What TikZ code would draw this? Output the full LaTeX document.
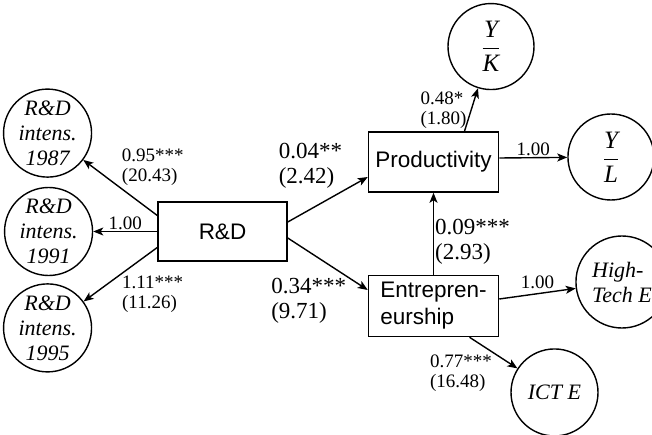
\documentclass[tikz,border=0pt]{standalone}
\usepackage{fontspec}
\setmainfont{Liberation Serif}
\setsansfont{Liberation Sans}
\usetikzlibrary{positioning, arrows.meta}

\newcommand{\boxfont}{\fontsize{22.5}{27}\selectfont\sffamily}
\newcommand{\circfont}{\fontsize{22}{25}\selectfont\itshape}
\newcommand{\smallcoef}{\fontsize{19}{20}\selectfont}
\newcommand{\largecoef}{\fontsize{23}{25}\selectfont}
\newcommand{\yratio}[2]{\fontsize{25}{28}\selectfont$\displaystyle\frac{\mbox{\itshape #1}}{\mbox{\itshape #2}}$}

\begin{document}
\begin{tikzpicture}[
    x=1pt, y=-1pt,
    node distance=10pt,
    arrow/.style={-{Stealth[length=10pt, width=8pt, inset=2.5pt]}, line width=1.4pt},
    varbox/.style={
        rectangle,
        draw,
        line width=1.5pt,
        minimum width=130pt,
        minimum height=60pt,
        inner sep=2pt,
        font=\boxfont
    },
    latent/.style={
        circle,
        draw,
        line width=1.4pt,
        minimum size=88pt,
        inner sep=0pt,
        align=center,
        font=\circfont
    },
    coef/.style={font=\smallcoef, align=left, inner sep=1pt},
    bigcoef/.style={font=\largecoef, align=left, inner sep=1pt}
]

% Frame
\useasboundingbox (0,0) rectangle (652,435);

%% CENTRE - R&D %%
\node (rd) [varbox, minimum width=129pt, minimum height=59pt] at (222.5,231.5) {R\&D};

%% LEFT SIDE - intensity indicators %%
\node (int1991) [latent, left=64pt of rd] {R\&D\\intens.\\1991};
\node (int1987) [latent, above=9pt of int1991, xshift=-1pt] {R\&D\\intens.\\1987};
\node (int1995) [latent, below=7pt of int1991, xshift=-1pt] {R\&D\\intens.\\1995};

%% RIGHT SIDE - productivity and entrepreneurship %%
\node (prod) [varbox, right=80pt of rd, yshift=69.5pt] {Productivity};

\node (entre) [varbox, below=82pt of prod, minimum height=61pt, align=left] {
    Entrepren-\\eurship
};

\node (yk) [latent, minimum size=86pt, above=41pt of prod, xshift=57.5pt] {\yratio{Y}{K}};
\node (yl) [latent, minimum size=86pt, right=68pt of prod, yshift=5pt] {\yratio{Y}{L}};

\node (hte) [latent, minimum size=92pt, right=76pt of entre, yshift=24pt, align=left] {
    High-\\Tech E
};
\node (icte) [latent, minimum size=87pt, below=11pt of entre, xshift=121pt] {ICT E};

%% ARROWS %%
\draw [arrow] ([yshift=16pt]rd.west) --
    node[coef, pos=0.5, above right] (l1987) {0.95***\\(20.43)}
    (int1987);
\draw [arrow] (rd.west) --
    node[coef, above] (l1991) {1.00}
    (int1991);
\draw [arrow] ([yshift=-16pt]rd.west) --
    node[coef, pos=0.5, below right] (l1995) {1.11***\\(11.26)}
    (int1995);

\draw [arrow] ([yshift=9.5pt]rd.east) --
    node[bigcoef, pos=0.7, above left] (lprod) {0.04**\\(2.42)}
    ([yshift=-15pt]prod.west);
\draw [arrow] ([yshift=-6.5pt]rd.east) --
    node[bigcoef, pos=0.75, below left] (lentre) {0.34***\\(9.71)}
    ([yshift=16pt]entre.west);

\draw [arrow] (entre) --
    node[bigcoef, pos=0.4, right] (lmed) {0.09***\\(2.93)}
    (prod);

\draw [arrow] ([xshift=31pt]prod.north) --
    node[coef, pos=0.5, left=3pt] (lyk) {0.48*\\(1.80)}
    (yk);
\draw [arrow] ([yshift=4pt]prod.east) --
    node[coef, above] (lyl) {1.00}
    (yl);

\draw [arrow] ([yshift=7pt]entre.east) --
    node[coef, above=3pt] (lhte) {1.00}
    (hte);
\draw [arrow] ([xshift=36pt]entre.south) --
    node[coef, pos=0.5, below left] (licte) {0.77***\\(16.48)}
    (icte);

\end{tikzpicture}
\end{document}
